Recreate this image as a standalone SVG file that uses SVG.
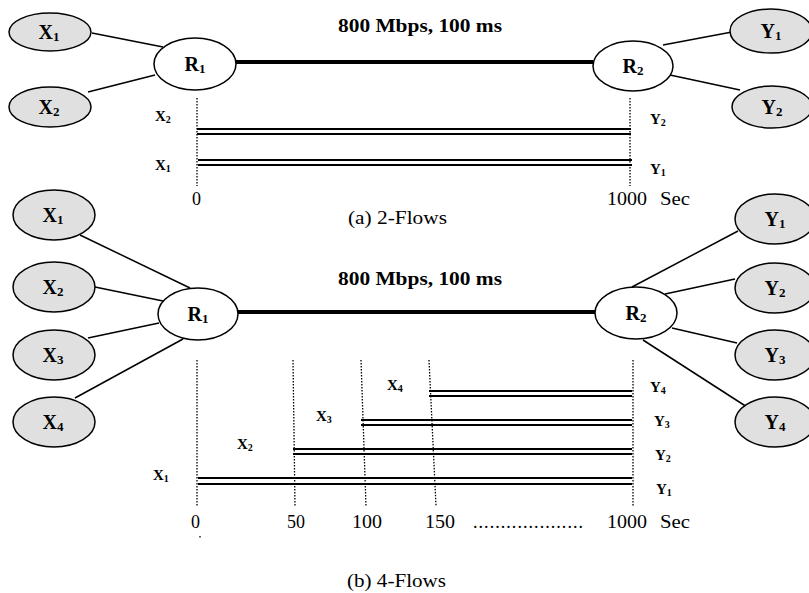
<svg xmlns="http://www.w3.org/2000/svg" width="809" height="593" viewBox="0 0 809 593">
<style>
.host{fill:#e0e0e0;stroke:#000;stroke-width:1.5}
.rt{fill:#fff;stroke:#000;stroke-width:1.5}
.nl{font-family:"Liberation Serif",serif;font-weight:bold;font-size:20px;text-anchor:middle}
.tl{font-family:"Liberation Serif",serif;font-weight:bold;font-size:15px}
.hd{font-family:"Liberation Serif",serif;font-weight:bold;font-size:19px;text-anchor:middle}
.num{font-family:"Liberation Serif",serif;font-size:18px}
.cap{font-family:"Liberation Serif",serif;font-size:19px}
.ln{stroke:#000;stroke-width:1.5;fill:none}
.thick{stroke:#000;stroke-width:4;fill:none}
.dot{stroke:#000;stroke-width:1.3;stroke-dasharray:1.5 1.5;fill:none}
.flow{stroke:#000;stroke-width:2.2;fill:none}
</style>
<rect width="809" height="593" fill="#fff"/>
<g id="connectors">
<line class="ln" x1="92" y1="33" x2="163" y2="47"/>
<line class="ln" x1="88" y1="92" x2="155" y2="75"/>
<line class="thick" x1="236" y1="62" x2="593" y2="62"/>
<line class="ln" x1="663" y1="45" x2="732" y2="32"/>
<line class="ln" x1="670" y1="75" x2="740" y2="90"/>
<line class="ln" x1="80" y1="235" x2="190" y2="288"/>
<line class="ln" x1="95" y1="287" x2="163" y2="301"/>
<line class="ln" x1="88" y1="338" x2="159" y2="323"/>
<line class="ln" x1="75" y1="398" x2="183" y2="339"/>
<line class="thick" x1="238" y1="312" x2="596" y2="312"/>
<line class="ln" x1="632" y1="287" x2="738" y2="231"/>
<line class="ln" x1="665" y1="294" x2="735" y2="279"/>
<line class="ln" x1="672" y1="328" x2="737" y2="343"/>
<line class="ln" x1="643" y1="340" x2="747" y2="407"/>
</g>
<g id="X1a"><ellipse class="host" cx="50" cy="32" rx="41" ry="19"/><text class="nl" x="49" y="39">X<tspan font-size="13" dy="2">1</tspan></text></g>
<g id="X2a"><ellipse class="host" cx="50" cy="107" rx="41" ry="20"/><text class="nl" x="49" y="114">X<tspan font-size="13" dy="2">2</tspan></text></g>
<g id="R1a"><ellipse class="rt" cx="195" cy="64" rx="41" ry="26"/><text class="nl" x="195" y="71">R<tspan font-size="13" dy="2">1</tspan></text></g>
<g id="R2a"><ellipse class="rt" cx="633" cy="66" rx="40" ry="25"/><text class="nl" x="633" y="73">R<tspan font-size="13" dy="2">2</tspan></text></g>
<g id="Y1a"><ellipse class="host" cx="771" cy="31" rx="41" ry="22"/><text class="nl" x="771" y="38">Y<tspan font-size="13" dy="2">1</tspan></text></g>
<g id="Y2a"><ellipse class="host" cx="772" cy="107" rx="40" ry="21"/><text class="nl" x="772" y="114">Y<tspan font-size="13" dy="2">2</tspan></text></g>
<text class="hd" x="420" y="32" textLength="164" lengthAdjust="spacingAndGlyphs">800 Mbps, 100 ms</text>
<g id="timeline-a">
<line class="dot" x1="197" y1="98" x2="197" y2="186"/>
<line class="dot" x1="630" y1="98" x2="630" y2="186"/>
<line class="flow" x1="197" y1="129" x2="631" y2="129"/>
<line class="flow" x1="197" y1="134" x2="631" y2="134"/>
<line class="flow" x1="198" y1="160" x2="632" y2="160"/>
<line class="flow" x1="198" y1="165" x2="632" y2="165"/>
<text class="tl" x="155" y="121">X<tspan font-size="10" dy="2">2</tspan></text>
<text class="tl" x="155" y="170">X<tspan font-size="10" dy="2">1</tspan></text>
<text class="tl" x="650" y="124">Y<tspan font-size="10" dy="2">2</tspan></text>
<text class="tl" x="650" y="174">Y<tspan font-size="10" dy="2">1</tspan></text>
<text class="num" x="192" y="205">0</text>
<text class="num" x="607" y="205" textLength="40" lengthAdjust="spacingAndGlyphs">1000</text>
<text class="num" x="660" y="205" textLength="30" lengthAdjust="spacingAndGlyphs">Sec</text>
<text class="cap" x="348" y="224" textLength="99" lengthAdjust="spacingAndGlyphs">(a) 2-Flows</text>
</g>
<g id="X1b"><ellipse class="host" cx="54" cy="215" rx="41" ry="25"/><text class="nl" x="53" y="222">X<tspan font-size="13" dy="2">1</tspan></text></g>
<g id="X2b"><ellipse class="host" cx="54" cy="287" rx="41" ry="25"/><text class="nl" x="53" y="294">X<tspan font-size="13" dy="2">2</tspan></text></g>
<g id="X3b"><ellipse class="host" cx="54" cy="355" rx="41" ry="25"/><text class="nl" x="53" y="362">X<tspan font-size="13" dy="2">3</tspan></text></g>
<g id="X4b"><ellipse class="host" cx="54" cy="422" rx="41" ry="25"/><text class="nl" x="53" y="429">X<tspan font-size="13" dy="2">4</tspan></text></g>
<g id="R1b"><ellipse class="rt" cx="198" cy="314" rx="40" ry="26"/><text class="nl" x="198" y="321">R<tspan font-size="13" dy="2">1</tspan></text></g>
<g id="R2b"><ellipse class="rt" cx="636" cy="313" rx="41" ry="26"/><text class="nl" x="636" y="320">R<tspan font-size="13" dy="2">2</tspan></text></g>
<g id="Y1b"><ellipse class="host" cx="775" cy="219" rx="40" ry="25"/><text class="nl" x="775" y="226">Y<tspan font-size="13" dy="2">1</tspan></text></g>
<g id="Y2b"><ellipse class="host" cx="775" cy="288" rx="40" ry="25"/><text class="nl" x="775" y="295">Y<tspan font-size="13" dy="2">2</tspan></text></g>
<g id="Y3b"><ellipse class="host" cx="775" cy="355" rx="40" ry="25"/><text class="nl" x="775" y="362">Y<tspan font-size="13" dy="2">3</tspan></text></g>
<g id="Y4b"><ellipse class="host" cx="775" cy="422" rx="40" ry="25"/><text class="nl" x="775" y="429">Y<tspan font-size="13" dy="2">4</tspan></text></g>
<text class="hd" x="420" y="285" textLength="164" lengthAdjust="spacingAndGlyphs">800 Mbps, 100 ms</text>
<g id="timeline-b">
<line class="dot" x1="197" y1="360" x2="197" y2="506"/>
<line class="dot" x1="293" y1="360" x2="295" y2="506"/>
<line class="dot" x1="361" y1="360" x2="366" y2="506"/>
<line class="dot" x1="429" y1="360" x2="436" y2="506"/>
<line class="dot" x1="633" y1="360" x2="633" y2="506"/>
<line class="dot" x1="200" y1="536" x2="200" y2="538"/>
<line class="flow" x1="429" y1="391" x2="632" y2="391"/>
<line class="flow" x1="429" y1="396" x2="632" y2="396"/>
<line class="flow" x1="361" y1="420" x2="632" y2="420"/>
<line class="flow" x1="361" y1="425" x2="632" y2="425"/>
<line class="flow" x1="293" y1="449" x2="632" y2="449"/>
<line class="flow" x1="293" y1="454" x2="632" y2="454"/>
<line class="flow" x1="198" y1="478" x2="632" y2="478"/>
<line class="flow" x1="198" y1="484" x2="632" y2="484"/>
<text class="tl" x="387" y="390">X<tspan font-size="10" dy="2">4</tspan></text>
<text class="tl" x="316" y="421">X<tspan font-size="10" dy="2">3</tspan></text>
<text class="tl" x="237" y="449">X<tspan font-size="10" dy="2">2</tspan></text>
<text class="tl" x="153" y="480">X<tspan font-size="10" dy="2">1</tspan></text>
<text class="tl" x="650" y="392">Y<tspan font-size="10" dy="2">4</tspan></text>
<text class="tl" x="654" y="426">Y<tspan font-size="10" dy="2">3</tspan></text>
<text class="tl" x="655" y="460">Y<tspan font-size="10" dy="2">2</tspan></text>
<text class="tl" x="656" y="494">Y<tspan font-size="10" dy="2">1</tspan></text>
<text class="num" x="191" y="528">0</text>
<text class="num" x="287" y="528">50</text>
<text class="num" x="352" y="528" textLength="30" lengthAdjust="spacingAndGlyphs">100</text>
<text class="num" x="425" y="528" textLength="30" lengthAdjust="spacingAndGlyphs">150</text>
<text class="num" x="473" y="528" textLength="110" lengthAdjust="spacing">....................</text>
<text class="num" x="607" y="528" textLength="40" lengthAdjust="spacingAndGlyphs">1000</text>
<text class="num" x="660" y="528" textLength="30" lengthAdjust="spacingAndGlyphs">Sec</text>
<text class="cap" x="347" y="587" textLength="99" lengthAdjust="spacingAndGlyphs">(b) 4-Flows</text>
</g>
</svg>
